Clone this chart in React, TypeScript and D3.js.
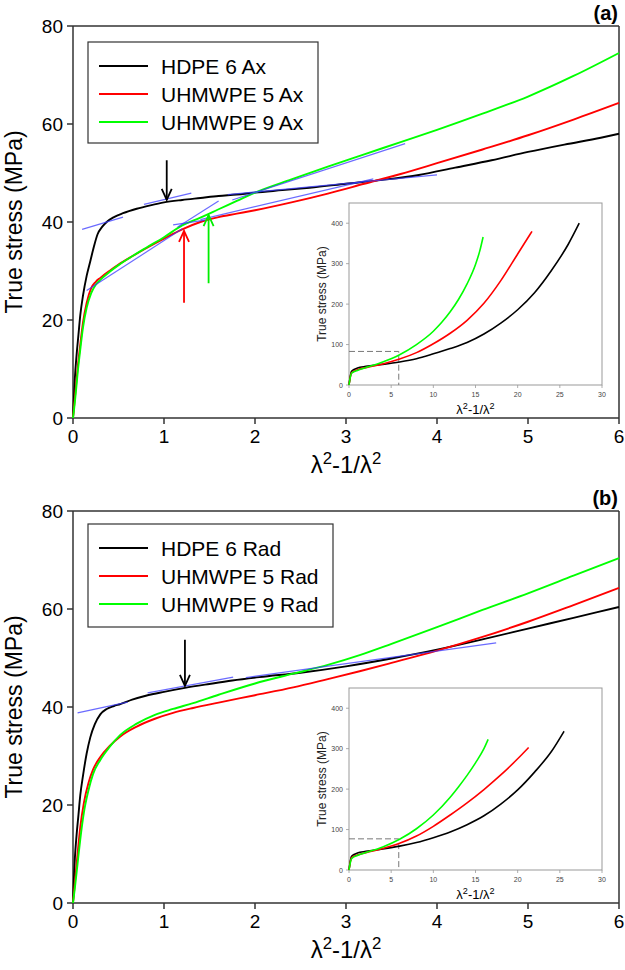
import React from "react";
import * as d3 from "d3";

const W = 625;
const H = 970;
const FONT = "'Liberation Sans', Arial, sans-serif";

// ---------- Panel (a): axial ----------
const axHdpeX = [0, 0.01, 0.02, 0.04, 0.06, 0.08, 0.11, 0.15, 0.19, 0.23, 0.27, 0.32, 0.37, 0.45, 0.55, 0.7, 0.85, 1.0, 1.2, 1.4, 1.6, 1.8, 2.0, 2.3, 2.6, 3.0, 3.4, 3.8, 4.2, 4.6, 5.0, 5.4, 5.8, 6.0];
const axHdpeY = [0, 4, 8, 13, 17, 21, 25, 29, 32, 35, 37.5, 39, 40, 41, 41.8, 42.7, 43.4, 44, 44.5, 44.9, 45.3, 45.6, 46.0, 46.5, 47.0, 47.8, 48.6, 49.6, 51.1, 52.6, 54.3, 55.8, 57.2, 58];
const axU5X = [0, 0.01, 0.03, 0.05, 0.08, 0.11, 0.15, 0.2, 0.25, 0.3, 0.4, 0.5, 0.65, 0.8, 1.0, 1.2, 1.4, 1.6, 1.8, 2.0, 2.4, 2.8, 3.2, 3.6, 4.0, 4.5, 5.0, 5.5, 6.0];
const axU5Y = [0, 2, 6, 10, 15, 19.5, 23.5, 26.5, 27.8, 28.6, 30, 31.3, 33, 34.6, 36.6, 38.5, 40.0, 41.0, 41.7, 42.4, 44.0, 45.8, 47.8, 49.8, 52.0, 54.8, 57.7, 60.9, 64.3];
const axU9X = [0, 0.01, 0.03, 0.05, 0.08, 0.11, 0.15, 0.2, 0.25, 0.3, 0.4, 0.5, 0.65, 0.8, 1.0, 1.2, 1.4, 1.6, 1.8, 2.0, 2.4, 2.8, 3.2, 3.6, 4.0, 4.5, 5.0, 5.5, 6.0];
const axU9Y = [0, 1.5, 5, 9, 14, 18.5, 22.5, 25.5, 27.2, 28.2, 29.8, 31.2, 33, 34.7, 36.9, 39.3, 40.9, 42.6, 44.3, 46.0, 48.7, 51.3, 53.8, 56.3, 58.8, 62.1, 65.6, 69.8, 74.5];
// tangent lines [x1, y1, x2, y2]
const axTangents = [
  [0.1, 38.5, 0.55, 41.0],
  [0.78, 43.6, 1.3, 45.9],
  [1.7, 45.6, 4.0, 49.6],
  [0.15, 26.0, 1.2, 38.6],
  [1.15, 39.0, 1.6, 44.3],
  [1.1, 39.4, 1.45, 40.4],
  [1.75, 44.5, 3.65, 56.0],
  [1.4, 40.5, 3.3, 48.8],
];
// arrows [x, tailY, tipY, colour]
const axArrows: [number, number, number, string][] = [
  [1.03, 52.6, 44.5, "#000000"],
  [1.22, 23.5, 38.2, "#ff0000"],
  [1.49, 27.5, 41.4, "#00ee00"],
];
// inset (a)
const axInHdpeX = [0, 0.3, 1, 2, 4, 6, 8, 10, 12, 14, 16, 18, 20, 22, 24, 26, 27.3];
const axInHdpeY = [0, 34, 42, 46, 51, 57, 65, 77, 90, 105, 126, 153, 186, 228, 283, 348, 400];
const axInU5X = [0, 0.3, 1, 2, 4, 6, 8, 10, 12, 14, 16, 18, 20, 21.7];
const axInU5Y = [0, 30, 38, 43, 52, 64, 80, 102, 128, 160, 202, 258, 324, 380];
const axInU9X = [0, 0.3, 1, 2, 4, 6, 8, 10, 11, 12, 13, 14, 15, 15.5, 15.9];
const axInU9Y = [0, 29, 36, 43, 57, 75, 100, 133, 155, 181, 212, 250, 298, 331, 366];
const axInDash = [5.9, 83];

// ---------- Panel (b): radial ----------
const rdHdpeX = [0, 0.01, 0.02, 0.04, 0.06, 0.08, 0.11, 0.15, 0.19, 0.24, 0.3, 0.37, 0.45, 0.52, 0.65, 0.8, 1.0, 1.23, 1.5, 1.75, 2.05, 2.5, 3.0, 3.5, 4.0, 4.5, 5.0, 5.5, 6.0];
const rdHdpeY = [0, 5, 9, 14, 18, 22, 26, 30.5, 33.8, 36.5, 38.5, 39.6, 40.2, 40.6, 41.5, 42.3, 43.1, 43.9, 44.7, 45.4, 46.1, 47.0, 48.3, 49.9, 51.7, 53.8, 56.0, 58.2, 60.4];
const rdU5X = [0, 0.02, 0.05, 0.08, 0.12, 0.17, 0.22, 0.3, 0.4, 0.52, 0.7, 0.9, 1.1, 1.32, 1.6, 2.0, 2.42, 2.8, 3.15, 3.5, 4.0, 4.5, 5.0, 5.5, 6.0];
const rdU5Y = [0, 4, 10, 15.5, 20.5, 24.5, 27.2, 29.8, 32, 34.0, 36.0, 37.6, 38.8, 39.8, 40.9, 42.4, 44.0, 45.7, 47.3, 49.0, 51.5, 54.3, 57.4, 60.8, 64.3];
const rdU9X = [0, 0.02, 0.05, 0.08, 0.12, 0.17, 0.22, 0.3, 0.4, 0.52, 0.7, 0.9, 1.1, 1.32, 1.6, 2.0, 2.42, 2.8, 3.15, 3.5, 4.0, 4.5, 5.0, 5.5, 6.0];
const rdU9Y = [0, 3, 8, 13, 18.5, 23, 26.3, 29.2, 31.8, 34.3, 36.6, 38.4, 39.6, 40.8, 42.5, 44.8, 46.8, 48.6, 50.6, 52.9, 56.3, 59.8, 63.2, 66.8, 70.4];
const rdTangents = [
  [0.05, 38.8, 0.6, 41.0],
  [0.82, 42.9, 1.76, 46.1],
  [1.9, 46.0, 4.65, 53.1],
];
const rdArrows: [number, number, number, string][] = [[1.23, 53.7, 44.3, "#000000"]];
const rdInHdpeX = [0, 0.3, 1, 2, 4, 6, 8, 10, 12, 14, 16, 18, 20, 22, 24, 25.5];
const rdInHdpeY = [0, 34, 42, 46, 52, 59, 68, 80, 94, 112, 134, 163, 198, 242, 293, 343];
const rdInU5X = [0, 0.3, 1, 2, 4, 6, 8, 10, 12, 14, 16, 18, 20, 21.3];
const rdInU5Y = [0, 30, 37, 43, 53, 66, 84, 108, 136, 166, 199, 235, 275, 303];
const rdInU9X = [0, 0.3, 1, 2, 4, 6, 8, 10, 12, 13, 14, 15, 16, 16.5];
const rdInU9Y = [0, 28, 36, 43, 57, 76, 102, 136, 180, 206, 234, 265, 300, 323];
const rdInDash = [5.9, 77];

// ---------- shared ----------
const mainXTicks = [0, 1, 2, 3, 4, 5, 6];
const mainYTicks = [0, 20, 40, 60, 80];
const insetXTicks = [0, 5, 10, 15, 20, 25, 30];
const insetYTicks = [0, 100, 200, 300, 400];
const seriesColors = ["#000000", "#ff0000", "#00ff00"];
const axLabels = ["HDPE 6 Ax", "UHMWPE 5 Ax", "UHMWPE 9 Ax"];
const rdLabels = ["HDPE 6 Rad", "UHMWPE 5 Rad", "UHMWPE 9 Rad"];

const zip = (xs: number[], ys: number[]) => xs.map((x, i) => [x, ys[i]] as [number, number]);

function Lambda({ x, y, size, anchor = "middle" }: { x: number; y: number; size: number; anchor?: string }) {
  return (
    <text x={x} y={y} fontSize={size} fontFamily={FONT} textAnchor={anchor} fill="#000">
      λ<tspan dy={-size * 0.38} fontSize={size * 0.7}>2</tspan>
      <tspan dy={size * 0.38}>-1/λ</tspan>
      <tspan dy={-size * 0.38} fontSize={size * 0.7}>2</tspan>
    </text>
  );
}

type PanelProps = {
  top: number;
  tag: string;
  series: [number, number][][];
  labels: string[];
  tangents: number[][];
  arrows: [number, number, number, string][];
  inset: [number, number][][];
  dash: number[];
  legendBox: [number, number, number, number];
};

function Panel({ top, tag, series, labels, tangents, arrows, inset, dash, legendBox }: PanelProps) {
  const left = 73, right = 619;
  const y0 = top + 392, y80 = top;
  const x = d3.scaleLinear().domain([0, 6]).range([left, right]);
  const y = d3.scaleLinear().domain([0, 80]).range([y0, y80]);
  const line = d3
    .line<[number, number]>()
    .x((d) => x(d[0]))
    .y((d) => y(d[1]))
    .curve(d3.curveMonotoneX);

  // inset
  const iL = 349, iR = 602, iB = top + 359, iT = top + 177;
  const ix = d3.scaleLinear().domain([0, 30]).range([iL, iR]);
  const iy = d3.scaleLinear().domain([0, 450]).range([iB, iT]);
  const iline = d3
    .line<[number, number]>()
    .x((d) => ix(d[0]))
    .y((d) => iy(d[1]))
    .curve(d3.curveMonotoneX);

  const [lx, ly, lw, lh] = legendBox;
  const axisColor = "#333";

  return (
    <g>
      {/* frame */}
      <line x1={left} x2={right} y1={y80} y2={y80} stroke={axisColor} strokeWidth={1.5} />
      <line x1={right} x2={right} y1={y80} y2={y0} stroke={axisColor} strokeWidth={1.5} />
      <line x1={left} x2={right} y1={y0} y2={y0} stroke={axisColor} strokeWidth={1.5} />
      <line x1={left} x2={left} y1={y80} y2={y0} stroke={axisColor} strokeWidth={1.5} />
      {mainXTicks.map((t) => (
        <g key={"xt" + t}>
          <line x1={x(t)} x2={x(t)} y1={y0} y2={y0 + 6} stroke={axisColor} strokeWidth={1.5} />
          <text x={x(t)} y={y0 + 25} fontSize={19} fontFamily={FONT} textAnchor="middle" fill="#000">
            {t}
          </text>
        </g>
      ))}
      {mainYTicks.map((t) => (
        <g key={"yt" + t}>
          <line x1={left - 6} x2={left} y1={y(t)} y2={y(t)} stroke={axisColor} strokeWidth={1.5} />
          <text x={left - 10} y={y(t) + 7} fontSize={19} fontFamily={FONT} textAnchor="end" fill="#000">
            {t}
          </text>
        </g>
      ))}
      <text
        transform={`translate(${14},${(y0 + y80) / 2}) rotate(-90)`}
        fontSize={23}
        fontFamily={FONT}
        textAnchor="middle"
        dominantBaseline="central"
        fill="#000"
      >
        True stress (MPa)
      </text>
      <Lambda x={(left + right) / 2} y={y0 + 55} size={24} />
      <text x={618} y={top - 6} fontSize={20} fontWeight="bold" fontFamily={FONT} textAnchor="end" fill="#000">
        {tag}
      </text>

      {/* inset */}
      <rect x={iL} y={iT} width={iR - iL} height={iB - iT} fill="#fff" stroke="#999" strokeWidth={1} />
      {insetXTicks.map((t) => (
        <g key={"ixt" + t}>
          <line x1={ix(t)} x2={ix(t)} y1={iB} y2={iB + 3} stroke="#999" strokeWidth={0.8} />
          <text x={ix(t)} y={iB + 12} fontSize={7} fontFamily={FONT} textAnchor="middle" fill="#444">
            {t}
          </text>
        </g>
      ))}
      {insetYTicks.map((t) => (
        <g key={"iyt" + t}>
          <line x1={iL - 3} x2={iL} y1={iy(t)} y2={iy(t)} stroke="#999" strokeWidth={0.8} />
          <text x={iL - 6} y={iy(t) + 2.5} fontSize={7} fontFamily={FONT} textAnchor="end" fill="#444">
            {t}
          </text>
        </g>
      ))}
      <text
        transform={`translate(${322},${(iT + iB) / 2}) rotate(-90)`}
        fontSize={12}
        fontFamily={FONT}
        textAnchor="middle"
        dominantBaseline="central"
        fill="#222"
      >
        True stress (MPa)
      </text>
      <Lambda x={(iL + iR) / 2} y={iB + 29} size={13} />
      <path
        d={`M${ix(0)},${iy(dash[1])}H${ix(dash[0])}V${iy(0)}`}
        fill="none"
        stroke="#777"
        strokeWidth={1}
        strokeDasharray="6,3"
      />
      {inset.map((s, i) => (
        <path key={"is" + i} d={iline(s) || ""} fill="none" stroke={seriesColors[i]} strokeWidth={1.6} />
      ))}

      {/* main series */}
      {series.map((s, i) => (
        <path key={"s" + i} d={line(s) || ""} fill="none" stroke={seriesColors[i]} strokeWidth={1.9} />
      ))}
      {tangents.map((t, i) => (
        <line
          key={"tg" + i}
          x1={x(t[0])}
          y1={y(t[1])}
          x2={x(t[2])}
          y2={y(t[3])}
          stroke="#3a3aff"
          strokeOpacity={0.75}
          strokeWidth={1.2}
        />
      ))}
      {arrows.map(([ax, yTail, yTip, c], i) => {
        const px = x(ax);
        const tip = y(yTip);
        const dir = y(yTail) < tip ? -1 : 1;
        return (
          <g key={"ar" + i} stroke={c} strokeWidth={1.8} fill="none">
            <line x1={px} x2={px} y1={y(yTail)} y2={tip} />
            <path d={`M${px - 5},${tip + dir * 11}L${px},${tip}L${px + 5},${tip + dir * 11}`} />
          </g>
        );
      })}

      {/* legend */}
      <rect x={lx} y={ly} width={lw} height={lh} fill="#fff" stroke="#333" strokeWidth={1.2} />
      {labels.map((lab, i) => (
        <g key={"lg" + i}>
          <line
            x1={lx + 11}
            x2={lx + 60}
            y1={ly + 24 + i * 28}
            y2={ly + 24 + i * 28}
            stroke={seriesColors[i]}
            strokeWidth={1.8}
          />
          <text x={lx + 73} y={ly + 24 + i * 28 + 7.5} fontSize={21} fontFamily={FONT} fill="#000">
            {lab}
          </text>
        </g>
      ))}
    </g>
  );
}

export default function App() {
  return (
    <svg width={W} height={H} style={{ display: "block", position: "absolute", left: 0, top: 0, background: "#fff" }}>
      <rect width={W} height={H} fill="#fff" />
      <Panel
        top={26}
        tag="(a)"
        series={[zip(axHdpeX, axHdpeY), zip(axU5X, axU5Y), zip(axU9X, axU9Y)]}
        labels={axLabels}
        tangents={axTangents}
        arrows={axArrows}
        inset={[zip(axInHdpeX, axInHdpeY), zip(axInU5X, axInU5Y), zip(axInU9X, axInU9Y)]}
        dash={axInDash}
        legendBox={[88, 42, 230, 101]}
      />
      <Panel
        top={511}
        tag="(b)"
        series={[zip(rdHdpeX, rdHdpeY), zip(rdU5X, rdU5Y), zip(rdU9X, rdU9Y)]}
        labels={rdLabels}
        tangents={rdTangents}
        arrows={rdArrows}
        inset={[zip(rdInHdpeX, rdInHdpeY), zip(rdInU5X, rdInU5Y), zip(rdInU9X, rdInU9Y)]}
        dash={rdInDash}
        legendBox={[88, 524, 245, 103]}
      />
    </svg>
  );
}
